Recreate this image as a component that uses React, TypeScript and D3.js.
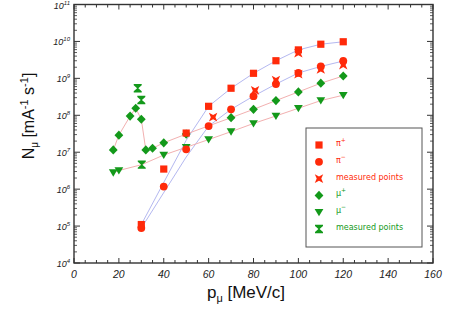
import React from 'react';
import * as d3 from 'd3';

const W = 459;
const H = 314;

// pion data (x = momentum in MeV/c)
const piX = [30, 40, 50, 60, 70, 80, 90, 100, 110, 120];
const piPlus = [1.1e5, 3.5e6, 3.3e7, 1.75e8, 5.4e8, 1.37e9, 3.0e9, 5.9e9, 8.4e9, 9.8e9];
const piMinus = [8.8e4, 1.17e6, 1.2e7, 5.1e7, 1.45e8, 3.3e8, 7.0e8, 1.4e9, 2.1e9, 2.95e9];
const piMeasuredX = [62, 80.7, 90, 100, 100, 110, 120];
const piMeasured = [8.9e7, 4.7e8, 9.0e8, 1.3e9, 4.8e9, 1.75e9, 2.3e9];

// model curves drawn behind the pion points
const piCurveX = [30, 50, 60, 70, 80, 90, 100, 110, 120];
const piPlusCurve = [1.1e5, 2.1e7, 1.75e8, 5.4e8, 1.37e9, 3.0e9, 5.9e9, 8.4e9, 9.8e9];
const piMinusCurve = [8.8e4, 7.4e6, 5.1e7, 1.45e8, 3.3e8, 7.0e8, 1.4e9, 2.1e9, 2.95e9];

// muon data
const muPlusX = [17.5, 20, 25, 27.5, 30, 32, 35, 40, 50, 70, 80, 90, 100, 110, 120];
const muPlus = [1.15e7, 2.9e7, 9.5e7, 1.55e8, 7.8e7, 1.15e7, 1.28e7, 1.8e7, 3.1e7, 8.6e7, 1.45e8, 2.5e8, 4.3e8, 7.4e8, 1.16e9];
const muMinusX = [17.5, 20, 40, 50, 60, 70, 80, 90, 100, 110, 120];
const muMinus = [2.8e6, 3.2e6, 8.4e6, 1.36e7, 2.2e7, 3.6e7, 6.0e7, 9.6e7, 1.55e8, 2.5e8, 3.5e8];
const muMeasuredX = [28.4, 30, 30.2];
const muMeasured = [5.4e8, 2.6e8, 4.6e6];

const xTicks = [0, 20, 40, 60, 80, 100, 120, 140, 160];
const yExps = [4, 5, 6, 7, 8, 9, 10, 11];

const RED = '#ff2a0a';
const GREEN = '#13991a';
const BLUE_LINE = '#b4b8f0';
const PINK_LINE = '#f2b0b0';
const AXIS = '#333';

const legendItems = [
  { sym: 'square', color: RED, label: 'π', sup: '+' },
  { sym: 'circle', color: RED, label: 'π', sup: '−' },
  { sym: 'x', color: RED, label: 'measured points', sup: '' },
  { sym: 'diamond', color: GREEN, label: 'μ', sup: '+' },
  { sym: 'triangle', color: GREEN, label: 'μ', sup: '−' },
  { sym: 'hourglass', color: GREEN, label: 'measured points', sup: '' },
];

const x = d3.scaleLinear().domain([0, 160]).range([74, 433]);
const y = d3.scaleLog().domain([1e4, 1e11]).range([263, 4.5]);

const zip = (xs: number[], vs: number[]) => xs.map((v, i) => ({ x: v, v: vs[i] }));

// marker shapes, centred on 0,0
const markerPath = (sym: string) => {
  switch (sym) {
    case 'square': return 'M-3.6,-3.6H3.6V3.6H-3.6Z';
    case 'diamond': return 'M0,-4.6L4.4,0L0,4.6L-4.4,0Z';
    case 'triangle': return 'M-4.4,-3.3L4.4,-3.3L0,4Z';
    case 'hourglass': return 'M-4,-4.2H4V-3L0.6,0L4,3V4.2H-4V3L-0.6,0L-4,-3Z';
    case 'x': return 'M-4.2,-4.4L0,-2.1L4.2,-4.4L2.3,0L4.2,4.4L0,2.1L-4.2,4.4L-2.3,0Z';
    default: return '';
  }
};

const Marker = ({ sym, color, cx, cy }: { sym: string; color: string; cx: number; cy: number }) =>
  sym === 'circle'
    ? <circle cx={cx} cy={cy} r={3.9} fill={color} />
    : <path d={markerPath(sym)} transform={`translate(${cx},${cy})`} fill={color} />;

const line = d3.line<{ x: number; v: number }>().x(d => x(d.x)).y(d => y(d.v));

const App = () => {
  const piPlusPts = zip(piX, piPlus);
  const piMinusPts = zip(piX, piMinus);
  const muPlusPts = zip(muPlusX, muPlus);
  const muMinusPts = zip(muMinusX, muMinus);
  const piMeasPts = zip(piMeasuredX, piMeasured);
  const muMeasPts = zip(muMeasuredX, muMeasured);

  // mu- curve runs through the low measured point at 30 MeV/c
  const muMinusCurve = [...muMinusPts, muMeasPts[2]].sort((a, b) => a.x - b.x);

  const [x0, x1] = x.range();
  const [y0, y1] = y.range();

  const xMinor = d3.range(0, 161, 5);
  const yMinor: number[] = [];
  for (let e = 4; e < 11; e++) for (let k = 2; k <= 9; k++) yMinor.push(k * Math.pow(10, e));

  const legX = 306, legY = 128, legW = 116, legH = 119;

  return (
    <svg width={W} height={H} style={{ position: 'absolute', left: 0, top: 0, background: '#fff' }}
      fontFamily="'Liberation Sans', Arial, sans-serif">
      <rect width={W} height={H} fill="#fff" />

      {/* curves */}
      <path d={line(zip(piCurveX, piPlusCurve)) || ''} fill="none" stroke={BLUE_LINE} strokeWidth={1} />
      <path d={line(zip(piCurveX, piMinusCurve)) || ''} fill="none" stroke={BLUE_LINE} strokeWidth={1} />
      <path d={line(muPlusPts) || ''} fill="none" stroke={PINK_LINE} strokeWidth={1} />
      <path d={line(muMinusCurve) || ''} fill="none" stroke={PINK_LINE} strokeWidth={1} />

      {/* markers */}
      {muMinusPts.map((d, i) => <Marker key={'mm' + i} sym="triangle" color={GREEN} cx={x(d.x)} cy={y(d.v)} />)}
      {muPlusPts.map((d, i) => <Marker key={'mp' + i} sym="diamond" color={GREEN} cx={x(d.x)} cy={y(d.v)} />)}
      {muMeasPts.map((d, i) => <Marker key={'mq' + i} sym="hourglass" color={GREEN} cx={x(d.x)} cy={y(d.v)} />)}
      {piMinusPts.map((d, i) => <Marker key={'pm' + i} sym="circle" color={RED} cx={x(d.x)} cy={y(d.v)} />)}
      {piPlusPts.map((d, i) => <Marker key={'pp' + i} sym="square" color={RED} cx={x(d.x)} cy={y(d.v)} />)}
      {piMeasPts.map((d, i) => <Marker key={'pq' + i} sym="x" color={RED} cx={x(d.x)} cy={y(d.v)} />)}

      {/* frame */}
      <rect x={x0} y={y1} width={x1 - x0} height={y0 - y1} fill="none" stroke={AXIS} strokeWidth={1.4} />

      {/* x ticks, bottom and top */}
      {xMinor.map(t => {
        const major = t % 20 === 0;
        const len = major ? 5 : 3;
        return (
          <g key={'xt' + t} stroke={AXIS} strokeWidth={1}>
            <line x1={x(t)} x2={x(t)} y1={y0} y2={y0 - len} />
            <line x1={x(t)} x2={x(t)} y1={y1} y2={y1 + len} />
          </g>
        );
      })}
      {xTicks.map(t => (
        <text key={'xl' + t} x={x(t)} y={278} textAnchor="middle" fontSize={10.5} fontStyle="italic" fill="#222">{t}</text>
      ))}

      {/* y ticks, left and right */}
      {yExps.map(e => (
        <g key={'ye' + e} stroke={AXIS} strokeWidth={1}>
          <line x1={x0} x2={x0 + 6} y1={y(Math.pow(10, e))} y2={y(Math.pow(10, e))} />
          <line x1={x1} x2={x1 - 6} y1={y(Math.pow(10, e))} y2={y(Math.pow(10, e))} />
        </g>
      ))}
      {yMinor.map((t, i) => (
        <g key={'ym' + i} stroke={AXIS} strokeWidth={0.8}>
          <line x1={x0} x2={x0 + 3} y1={y(t)} y2={y(t)} />
          <line x1={x1} x2={x1 - 3} y1={y(t)} y2={y(t)} />
        </g>
      ))}
      {yExps.map(e => (
        <text key={'yl' + e} x={70} y={y(Math.pow(10, e)) + 4} textAnchor="end" fontSize={9} fontStyle="italic" fill="#222">
          10<tspan dy={-4} fontSize={6}>{e}</tspan>
        </text>
      ))}

      {/* axis titles */}
      <text x={246} y={298} textAnchor="middle" fontSize={17} fill="#111">
        p<tspan dy={4} fontSize={11}>μ</tspan><tspan dy={-4}> [MeV/c]</tspan>
      </text>
      <text transform="translate(34,116) rotate(-90)" textAnchor="middle" fontSize={16} fill="#111">
        N<tspan dy={4} fontSize={10}>μ</tspan><tspan dy={-4}> [mA</tspan><tspan dy={-6} fontSize={11}>-1</tspan>
        <tspan dy={6}> s</tspan><tspan dy={-6} fontSize={11}>-1</tspan><tspan dy={6}>]</tspan>
      </text>

      {/* legend */}
      <rect x={legX} y={legY} width={legW} height={legH} fill="#fff" stroke="#555" strokeWidth={1} />
      {legendItems.map((it, i) => {
        const cy = 145 + i * 16.8;
        return (
          <g key={'lg' + i}>
            <Marker sym={it.sym} color={it.color} cx={319} cy={cy} />
            <text x={336} y={cy + 1} fontSize={8} fontFamily="'DejaVu Sans', sans-serif" fill={it.color}>
              {it.label}{it.sup && <tspan dy={-4} fontSize={6}>{it.sup}</tspan>}
            </text>
          </g>
        );
      })}
    </svg>
  );
};

export default App;
